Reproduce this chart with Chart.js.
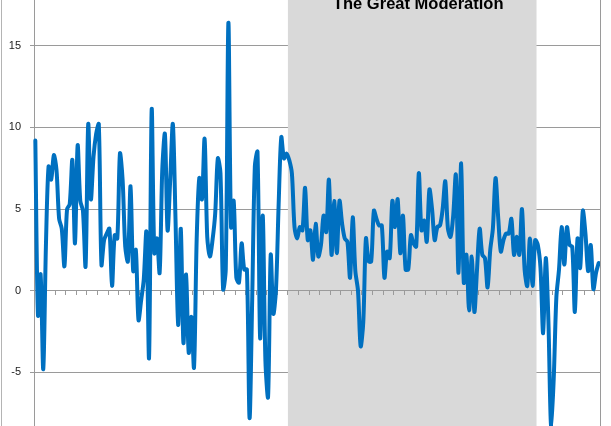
<!DOCTYPE html>
<html>
<head>
<meta charset="utf-8">
<script src="https://cdn.jsdelivr.net/npm/chart.js@4/dist/chart.umd.min.js"></script>
<style>
  html, body { margin: 0; padding: 0; background: #fff; overflow: hidden; }
  #wrap { position: relative; width: 611px; height: 426px; }
  canvas { display: block; }
</style>
</head>
<body>
<div id="wrap"><canvas id="c" width="611" height="426"></canvas></div>
<script>
// Quarters 1960Q1 .. 2013Q2
const firstYear = 1960;
const lastYear = 2013;
const lastQuarterOfLastYear = 2;

const growth = [
  9.2, -1.5, 1.0, -4.8,    // 1960
  2.7, 7.6, 6.8, 8.3,      // 1961
  7.4, 4.4, 3.8, 1.5,      // 1962
  5.0, 5.3, 8.0, 2.9,      // 1963
  8.9, 5.5, 4.9, 1.5,      // 1964
  10.2, 5.6, 8.2, 9.6,     // 1965
  10.2, 1.6, 3.1, 3.5,     // 1966
  3.8, 0.3, 3.4, 3.2,      // 1967
  8.4, 6.8, 2.7, 1.8,      // 1968
  6.4, 1.2, 2.5, -1.8,     // 1969
  -0.6, 0.7, 3.6, -4.1,    // 1970
  11.1, 2.3, 3.2, 1.1,     // 1971
  7.4, 9.6, 3.7, 6.8,      // 1972
  10.2, 4.4, -2.1, 3.8,    // 1973
  -3.2, 1.0, -3.8, -1.6,   // 1974
  -4.7, 3.1, 6.9, 5.6,     // 1975
  9.3, 3.3, 2.1, 3.1,      // 1976
  4.7, 8.1, 7.2, 0.1,      // 1977
  1.3, 16.4, 3.9, 5.5,     // 1978
  0.8, 0.5, 2.9, 1.3,      // 1979
  1.3, -7.8, -0.5, 7.6,    // 1980
  8.5, -2.9, 4.6, -4.3,    // 1981
  -6.5, 2.2, -1.4, 0.1,    // 1982
  5.3, 9.4, 8.1, 8.4,      // 1983
  8.0, 7.2, 3.9, 3.2,      // 1984
  3.9, 3.7, 6.3, 3.1,      // 1985
  3.7, 1.9, 4.1, 2.1,      // 1986
  2.8, 4.6, 3.6, 6.8,      // 1987
  2.2, 5.5, 2.3, 5.5,      // 1988
  4.1, 3.2, 3.0, 0.8,      // 1989
  4.5, 1.2, 0.0, -3.4,     // 1990
  -1.9, 3.2, 1.8, 1.8,     // 1991
  4.9, 4.4, 4.0, 4.0,      // 1992
  0.8, 2.4, 2.0, 5.5,      // 1993
  3.9, 5.6, 2.3, 4.6,      // 1994
  1.3, 1.3, 3.4, 2.9,      // 1995
  2.7, 7.2, 3.7, 4.3,      // 1996
  3.0, 6.2, 5.0, 3.1,      // 1997
  3.9, 4.0, 5.0, 6.7,      // 1998
  3.8, 3.3, 4.6, 7.1,      // 1999
  1.1, 7.8, 0.5, 2.2,      // 2000
  -1.2, 2.1, -1.3, 1.3,    // 2001
  3.8, 2.2, 2.0, 0.2,      // 2002
  2.5, 3.8, 6.9, 4.5,      // 2003
  2.4, 3.1, 3.5, 3.5,      // 2004
  4.4, 2.2, 3.3, 2.2,      // 2005
  5.0, 1.3, 0.3, 3.2,      // 2006
  0.3, 3.1, 2.8, 1.4,      // 2007
  -2.6, 2.0, -1.9, -8.3,   // 2008
  -5.4, -0.4, 1.3, 3.9,    // 2009
  1.6, 3.9, 2.8, 2.7,      // 2010
  -1.3, 3.2, 1.4, 4.9,     // 2011
  3.5, 1.2, 2.8, 0.1,      // 2012
  1.1, 1.7                 // 2013
];

// Shaded period (inclusive)
const shadeFrom = '1984Q1';
const shadeTo = '2007Q2';
const shadeTitle = 'The Great Moderation';

// Y axis tick labels shown, and visible range
const yTicks = [-5, 0, 5, 10, 15];
const yMin = -8.28;
const yMax = 17.8;

const quarters = [];
for (let y = firstYear; y <= lastYear; y++) {
  const nq = (y === lastYear) ? lastQuarterOfLastYear : 4;
  for (let q = 1; q <= nq; q++) quarters.push(y + 'Q' + q);
}

const GRID = '#9a9a9a';

const shadePlugin = {
  id: 'shade',
  beforeDatasetsDraw(chart) {
    const xs = chart.scales.x;
    const ca = chart.chartArea;
    const ctx = chart.ctx;
    const i0 = quarters.indexOf(shadeFrom);
    const i1 = quarters.indexOf(shadeTo);
    const half = (xs.getPixelForValue(1) - xs.getPixelForValue(0)) / 2;
    const left = xs.getPixelForValue(i0) - half;
    const right = xs.getPixelForValue(i1) + half;
    ctx.save();
    ctx.fillStyle = '#d9d9d9';
    ctx.fillRect(left, ca.top, right - left, ca.bottom - ca.top);
    ctx.restore();
    // horizontal axis (zero line + tick marks) sits above the shading
    xs.drawGrid(ca);
    xs.drawBorder();
  },
  afterDraw(chart) {
    const xs = chart.scales.x;
    const ca = chart.chartArea;
    const ctx = chart.ctx;
    const i0 = quarters.indexOf(shadeFrom);
    const i1 = quarters.indexOf(shadeTo);
    const mid = (xs.getPixelForValue(i0) + xs.getPixelForValue(i1)) / 2 + 6;
    ctx.save();
    ctx.fillStyle = '#000';
    ctx.font = 'bold 16.5px "Liberation Sans", Arial, sans-serif';
    ctx.textAlign = 'center';
    ctx.textBaseline = 'alphabetic';
    ctx.fillText(shadeTitle, mid, 9);
    // plot-area right border and chart outer left border
    ctx.strokeStyle = GRID;
    ctx.lineWidth = 1;
    ctx.beginPath();
    ctx.moveTo(Math.round(ca.right) + 0.5, 0);
    ctx.lineTo(Math.round(ca.right) + 0.5, chart.height);
    ctx.stroke();
    ctx.strokeStyle = '#b4b4b4';
    ctx.beginPath();
    ctx.moveTo(1.5, 0);
    ctx.lineTo(1.5, chart.height);
    ctx.stroke();
    ctx.restore();
  }
};

new Chart(document.getElementById('c'), {
  type: 'line',
  data: {
    labels: quarters,
    datasets: [{
      data: growth,
      borderColor: '#0070C0',
      borderWidth: 4,
      pointRadius: 0,
      tension: 0.3,
      borderJoinStyle: 'round',
      borderCapStyle: 'round',
      fill: false
    }]
  },
  options: {
    responsive: false,
    animation: false,
    devicePixelRatio: 1,
    layout: { padding: { left: 0, right: 11, top: 0, bottom: 0 } },
    plugins: { legend: { display: false }, tooltip: { enabled: false }, title: { display: false } },
    scales: {
      x: {
        type: 'category',
        position: { y: 0 },
        offset: true,
        grid: {
          offset: true,
          drawOnChartArea: false,
          drawTicks: true,
          tickLength: 4,
          tickColor: (c) => (c.index % 4 === 0 ? GRID : 'rgba(0,0,0,0)')
        },
        border: { display: true, color: GRID },
        ticks: { display: false, autoSkip: false }
      },
      y: {
        min: yMin,
        max: yMax,
        bounds: 'data',
        afterBuildTicks(s) { s.ticks = yTicks.map(v => ({ value: v })); },
        ticks: {
          padding: 9,
          color: '#222',
          font: { family: '"Liberation Sans", Arial, sans-serif', size: 11 }
        },
        grid: { color: GRID, tickLength: 4, drawTicks: true },
        border: { display: true, color: GRID },
        afterFit(s) { s.width = 34; s.paddingTop = 0; s.paddingBottom = 0; }
      }
    }
  },
  plugins: [shadePlugin]
});
</script>
</body>
</html>
